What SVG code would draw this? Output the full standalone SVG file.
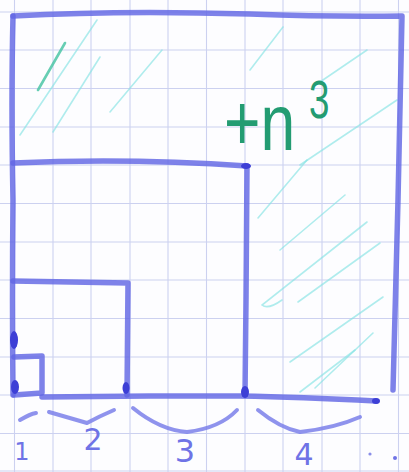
<svg xmlns="http://www.w3.org/2000/svg" width="409" height="472" viewBox="0 0 409 472">
<defs>
<style>
.grid line{stroke:#ccd1f0;stroke-width:1.1}
.pen{fill:none;stroke:#6266e4;stroke-width:5.5;stroke-linecap:round;stroke-linejoin:round;opacity:0.82}
.thin{fill:none;stroke:#7b80ea;stroke-width:4;stroke-linecap:round;stroke-linejoin:round;opacity:0.85}
.blob{fill:#3d3fd6}
.hatch{fill:none;stroke:#86e3e3;stroke-width:1.6;stroke-linecap:round;opacity:0.65}
.hatchdark{fill:none;stroke:#4cc6a6;stroke-width:2.6;stroke-linecap:round;opacity:0.85}
.lbl{font-family:"DejaVu Sans","Liberation Sans",sans-serif;fill:#6f73e6}
.grn{font-family:"Liberation Sans",sans-serif;fill:#239c72}
</style>
</defs>
<rect width="409" height="472" fill="#fdfdff"/>
<g class="grid" id="grid">
<line x1="14.5" y1="0" x2="14.5" y2="472"/><line x1="53" y1="0" x2="53" y2="472"/><line x1="91" y1="0" x2="91" y2="472"/><line x1="130" y1="0" x2="130" y2="472"/><line x1="168" y1="0" x2="168" y2="472"/><line x1="206.5" y1="0" x2="206.5" y2="472"/><line x1="245" y1="0" x2="245" y2="472"/><line x1="283" y1="0" x2="283" y2="472"/><line x1="322" y1="0" x2="322" y2="472"/><line x1="360" y1="0" x2="360" y2="472"/><line x1="398.5" y1="0" x2="398.5" y2="472"/>
<line x1="0" y1="12" x2="409" y2="12"/><line x1="0" y1="50" x2="409" y2="50"/><line x1="0" y1="88.5" x2="409" y2="88.5"/><line x1="0" y1="127" x2="409" y2="127"/><line x1="0" y1="165" x2="409" y2="165"/><line x1="0" y1="203.5" x2="409" y2="203.5"/><line x1="0" y1="242" x2="409" y2="242"/><line x1="0" y1="280" x2="409" y2="280"/><line x1="0" y1="318.5" x2="409" y2="318.5"/><line x1="0" y1="357" x2="409" y2="357"/><line x1="0" y1="395" x2="409" y2="395"/><line x1="0" y1="433.5" x2="409" y2="433.5"/><line x1="0" y1="471" x2="409" y2="471"/>
</g>
<g id="hatching">
<path class="hatch" d="M97,20 L20,135"/>
<path class="hatch" d="M100,57 L53,132"/>
<path class="hatch" d="M162,50 L110,112"/>
<path class="hatch" d="M367,50 L320,82"/>
<path class="hatch" d="M397,100 L300,165"/>
<path class="hatch" d="M283,27 L250,70"/>
<path class="hatch" d="M307,160 L258,218"/>
<path class="hatch" d="M367,222 L262,305 Q268,310 282,300"/>
<path class="hatch" d="M380,243 L298,302"/>
<path class="hatch" d="M345,195 L280,250"/>
<path class="hatch" d="M383,297 L290,362"/>
<path class="hatch" d="M373,333 L315,388"/>
<path class="hatch" d="M355,350 L300,392"/>
<path class="hatchdark" d="M65,43 L38,90"/>
</g>
<g id="outer">
<path class="pen" d="M13,16 Q120,10 250,14 Q330,17 402,16 L398,200 L393,390"/>
<path class="pen" d="M13,16 Q11,100 13,200 Q12,300 13,395"/>
</g>
<g id="square-n">
<path class="pen" d="M13,163 Q130,158 247,166 L246,300 L245,395"/>
</g>
<g id="square-3">
<path class="pen" d="M13,281 L128,283 L127,395"/>
</g>
<g id="square-1">
<path class="pen" d="M14,357 L42,356 L42,393 L14,395"/>
</g>
<g id="base">
<path class="pen" d="M42,397 L150,396 L240,396 Q300,397 376,401"/>
<ellipse class="blob" cx="14" cy="340" rx="4" ry="9"/>
<ellipse class="blob" cx="15" cy="387" rx="4" ry="7"/>
<ellipse class="blob" cx="126" cy="388" rx="3.5" ry="6"/>
<ellipse class="blob" cx="245" cy="392" rx="4" ry="6"/>
<ellipse class="blob" cx="246" cy="166" rx="5" ry="3"/>
<ellipse class="blob" cx="376" cy="401" rx="4" ry="3"/>
</g>
<g id="braces">
<path class="thin" d="M20,420 Q30,414 36,413"/>
<path class="thin" d="M49,412 Q70,418 87,423 Q100,416 114,410"/>
<path class="thin" d="M133,408 Q160,430 187,432 Q220,428 237,410"/>
<path class="thin" d="M258,410 Q280,428 300,432 Q335,428 360,417"/>
</g>
<g id="labels">
<text class="lbl" x="22" y="460" font-size="24" text-anchor="middle">1</text>
<text class="lbl" x="93" y="450" font-size="30" text-anchor="middle">2</text>
<text class="lbl" x="185" y="462" font-size="32" text-anchor="middle">3</text>
<text class="lbl" x="304" y="465" font-size="30" text-anchor="middle">4</text>
<circle cx="370" cy="454" r="1.6" fill="#8a8ee8"/>
<circle cx="395" cy="458" r="2" fill="#6f73e6"/>
</g>
<g id="formula">
<text class="grn" transform="translate(224,150) scale(0.78,1)" font-size="80">+n</text>
<text class="grn" transform="translate(309,118) scale(0.68,1)" font-size="54">3</text>
</g>
</svg>
